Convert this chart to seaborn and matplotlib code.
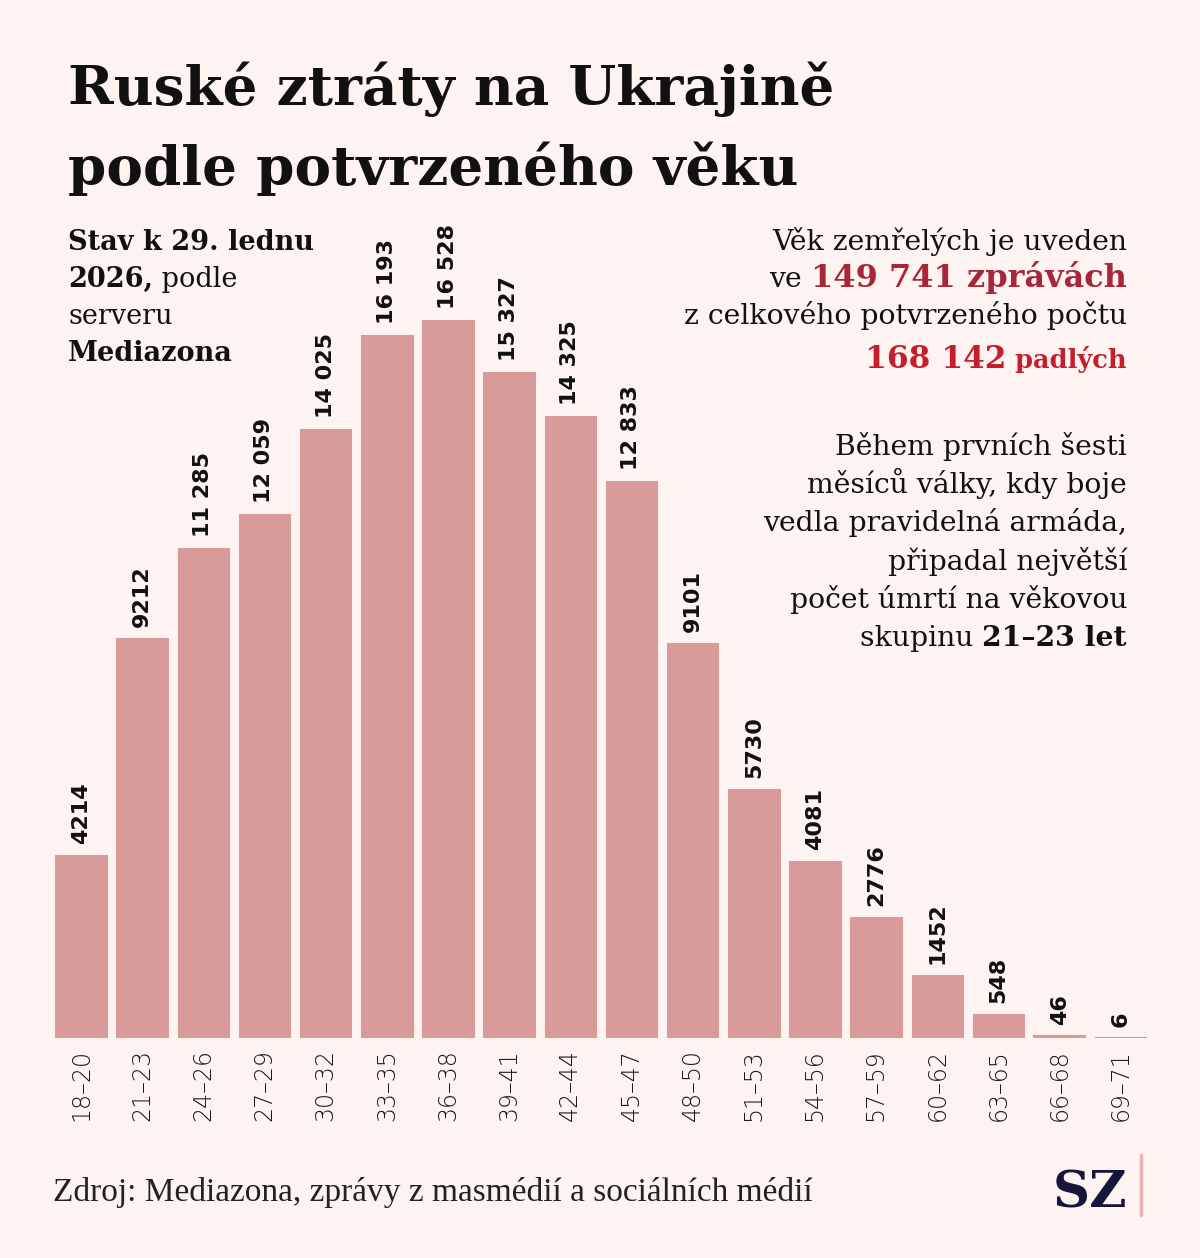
import numpy as np
import pandas as pd
import seaborn as sns
import matplotlib.pyplot as plt

# data
age_groups = ['18–20', '21–23', '24–26', '27–29', '30–32', '33–35', '36–38', '39–41', '42–44',
              '45–47', '48–50', '51–53', '54–56', '57–59', '60–62', '63–65', '66–68', '69–71']
deaths = [4214, 9212, 11285, 12059, 14025, 16193, 16528, 15327, 14325,
          12833, 9101, 5730, 4081, 2776, 1452, 548, 46, 6]

BG = '#fdf4f2'
BAR = '#d99a9a'
RED1 = '#a8263a'
RED2 = '#c41f2e'
SERIF = 'DejaVu Serif'

sns.set_theme(style='white', rc={'axes.facecolor': BG, 'figure.facecolor': BG})

df = pd.DataFrame({'age': age_groups, 'deaths': deaths})

fig = plt.figure(figsize=(12, 12.58), dpi=100)
ax = fig.add_axes([0.042, 0.1749, 0.9175, 0.650])
sns.barplot(data=df, x='age', y='deaths', color=BAR, saturation=1, width=0.84,
            edgecolor=BAR, linewidth=0.8, ax=ax)
# very small bars still show as a thin line
for p in ax.patches:
    if p.get_height() < 100:
        p.set_linewidth(1.6)
ax.set_xlim(-0.5, len(age_groups) - 0.5)
ax.set_ylim(0, 18830)
sns.despine(ax=ax, left=True, bottom=True)
ax.set_yticks([])
ax.set_xlabel('')
ax.set_ylabel('')
ax.tick_params(axis='x', length=0, pad=8)
ax.set_xticks(range(len(age_groups)))
ax.set_xticklabels(age_groups, rotation=90, fontsize=17, family='DejaVu Sans',
                   fontweight='light', color='#1a1a1a', va='top')


def fmt(v):
    s = f'{v:,}'
    return s.replace(',', ' ') if v >= 10000 else s.replace(',', '')


for i, v in enumerate(deaths):
    ax.annotate(fmt(v), (i, v), xytext=(0, 8), textcoords='offset points',
                rotation=90, ha='center', va='bottom', fontsize=16,
                fontweight='bold', family='DejaVu Sans', color='#111111')

# title
fig.text(68 / 1200, 1 - 105 / 1258, 'Ruské ztráty na Ukrajině', family=SERIF,
         fontweight='bold', fontsize=39.5, color='#111111', va='baseline')
fig.text(68 / 1200, 1 - 185 / 1258, 'podle potvrzeného věku', family=SERIF,
         fontweight='bold', fontsize=39.5, color='#111111', va='baseline')

renderer = fig.canvas.get_renderer()


def rich_line(x, y, parts, ha='left'):
    # parts: (text, weight, color, size); x,y in pixels from top-left
    texts = []
    for s, w, c, fs in parts:
        t = fig.text(0, 1 - y / 1258, s, family=SERIF, fontweight=w, color=c,
                     fontsize=fs, va='baseline', ha='left')
        texts.append(t)
    widths = [t.get_window_extent(renderer).width for t in texts]
    start = x if ha == 'left' else x - sum(widths)
    for t, w in zip(texts, widths):
        t.set_x(start / 1200)
        start += w


# left note
L = 19.5
rich_line(68, 250, [('Stav k 29. lednu', 'bold', '#111111', L)])
rich_line(68, 287, [('2026,', 'bold', '#111111', L), (' podle', 'normal', '#111111', L)])
rich_line(68, 324, [('serveru', 'normal', '#111111', L)])
rich_line(68, 361, [('Mediazona', 'bold', '#111111', L)])

# right notes
R = 1127
N = 20.3
rich_line(R, 250, [('Věk zemřelých je uveden', 'normal', '#111111', N)], ha='right')
rich_line(R, 287, [('ve ', 'normal', '#111111', N), ('149 741 zprávách', 'bold', RED1, 23)], ha='right')
rich_line(R, 324, [('z celkového potvrzeného počtu', 'normal', '#111111', N)], ha='right')
rich_line(R, 368, [('168 142', 'bold', RED2, 22.5), (' padlých', 'bold', RED2, 18.5)], ha='right')

para = ['Během prvních šesti', 'měsíců války, kdy boje', 'vedla pravidelná armáda,',
        'připadal největší', 'počet úmrtí na věkovou']
for k, line in enumerate(para):
    rich_line(R, 455 + k * 38.2, [(line, 'normal', '#111111', N)], ha='right')
rich_line(R, 646, [('skupinu ', 'normal', '#111111', N), ('21–23 let', 'bold', '#111111', N)], ha='right')

# source and logo
fig.text(53 / 1200, 1 - 1201 / 1258, 'Zdroj: Mediazona, zprávy z masmédií a sociálních médií',
         family='Liberation Serif', fontsize=24, color='#222222', va='baseline')
fig.text(1127 / 1200, 1 - 1207 / 1258, 'SZ', family=SERIF, fontweight='bold',
         fontsize=37, color='#16163a', ha='right', va='baseline')
fig.add_artist(plt.Line2D([1141 / 1200, 1141 / 1200], [1 - 1155 / 1258, 1 - 1215 / 1258],
                          color='#e3b5b5', lw=2.5))

fig.savefig('out.png', dpi=100, facecolor=BG)
